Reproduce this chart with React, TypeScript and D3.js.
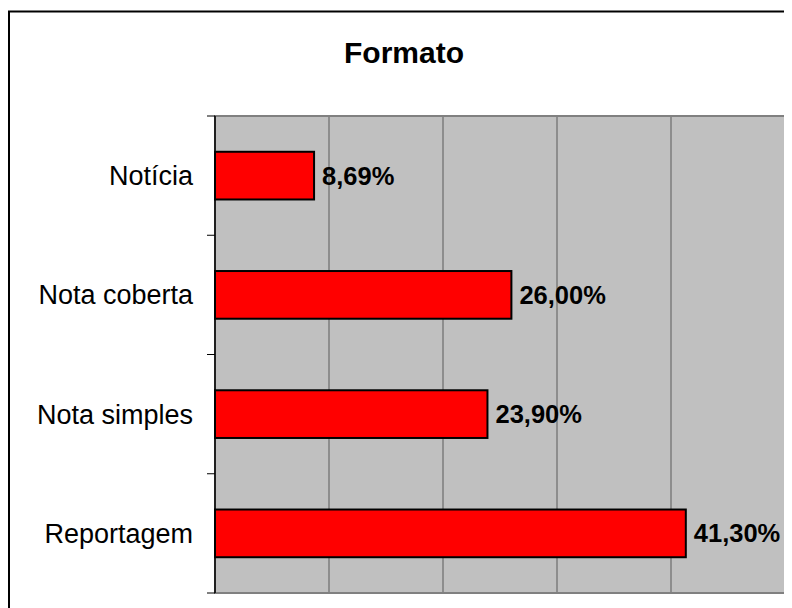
import React from "react";
import * as d3 from "d3";

const categories = ["Notícia", "Nota coberta", "Nota simples", "Reportagem"];
const values = [8.69, 26.0, 23.9, 41.3];
const xTicks = [0, 10, 20, 30, 40, 50];
const title = "Formato";

const W = 784;
const H = 600;
const plot = { left: 207, right: 777, top: 108, bottom: 585 };
const font = "'Liberation Sans', Arial, sans-serif";

export default function App() {
  const x = d3.scaleLinear().domain([0, 50]).range([plot.left, plot.right]);
  const y = d3.scaleBand<string>().domain(categories).range([plot.top, plot.bottom]).padding(0);
  const bw = y.bandwidth();
  const barH = bw * 0.4;
  const fmt = (v: number) => v.toFixed(2).replace(".", ",") + "%";
  const boundaries = categories.map((c) => y(c)!).concat([plot.bottom]);

  return (
    <svg width={W} height={H} style={{ display: "block", overflow: "hidden" }}>
      <rect x={1} y={3.5} width={1000} height={1000} fill="#fff" stroke="#000" strokeWidth={2} />
      <text x={396} y={55} textAnchor="middle" fontFamily={font} fontWeight="bold" fontSize={30} fill="#000">
        {title}
      </text>
      <rect
        x={plot.left}
        y={plot.top}
        width={plot.right - plot.left}
        height={plot.bottom - plot.top}
        fill="#C0C0C0"
      />
      {xTicks.slice(1, -1).map((t) => (
        <line key={t} x1={x(t)} x2={x(t)} y1={plot.top} y2={plot.bottom} stroke="#5a5a5a" strokeWidth={1} />
      ))}
      <rect
        x={plot.left}
        y={plot.top}
        width={plot.right - plot.left}
        height={plot.bottom - plot.top}
        fill="none"
        stroke="#808080"
        strokeWidth={2}
      />
      <line x1={plot.left} x2={plot.left} y1={plot.top} y2={plot.bottom} stroke="#000" strokeWidth={1.5} />
      {boundaries.map((b, i) => (
        <line key={i} x1={plot.left - 8} x2={plot.left} y1={b} y2={b} stroke="#000" strokeWidth={1} />
      ))}
      {categories.map((c, i) => {
        const cy = y(c)! + bw / 2;
        return (
          <g key={c}>
            <rect
              x={x(0)}
              y={cy - barH / 2}
              width={x(values[i]) - x(0)}
              height={barH}
              fill="#FF0000"
              stroke="#000"
              strokeWidth={2}
            />
            <text x={185} y={cy} dy="0.35em" textAnchor="end" fontFamily={font} fontSize={27} fill="#000">
              {c}
            </text>
            <text
              x={x(values[i]) + 8}
              y={cy}
              dy="0.35em"
              fontFamily={font}
              fontWeight="bold"
              fontSize={25.5}
              fill="#000"
            >
              {fmt(values[i])}
            </text>
          </g>
        );
      })}
    </svg>
  );
}
